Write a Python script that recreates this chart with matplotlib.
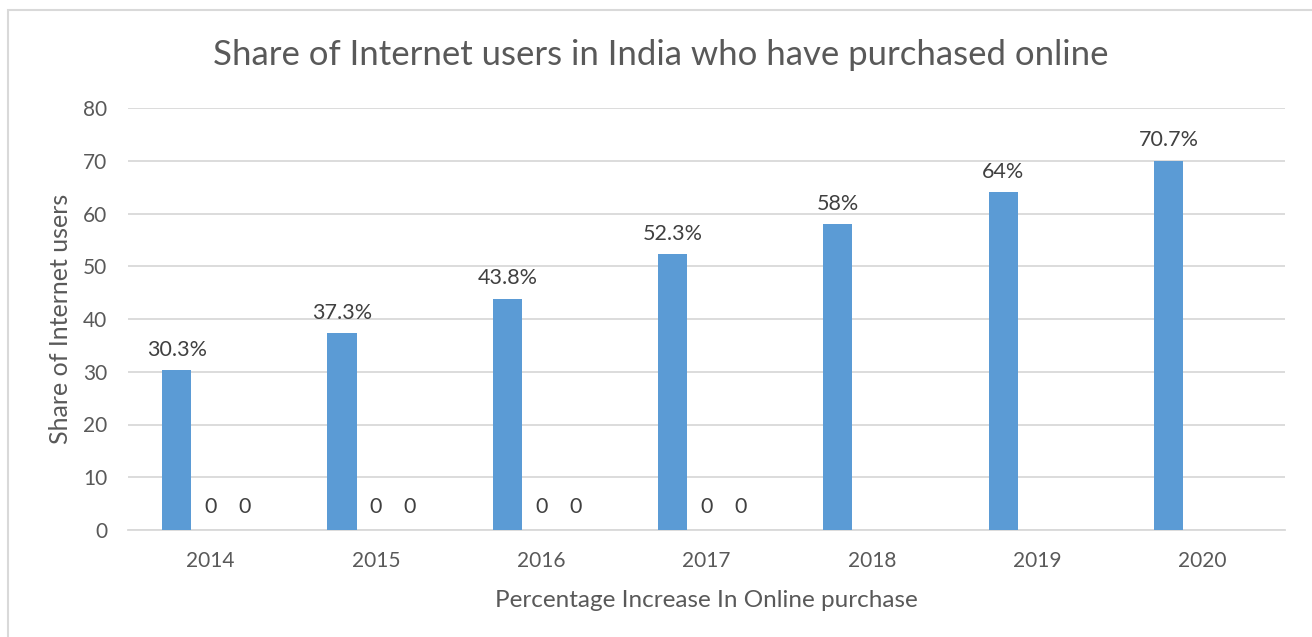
import numpy as np
import matplotlib.pyplot as plt
from matplotlib.patches import Rectangle

# data
years = ["2014", "2015", "2016", "2017", "2018", "2019", "2020"]
share = [30.3, 37.3, 43.8, 52.3, 58, 64, 70]
share_labels = ["30.3%", "37.3%", "43.8%", "52.3%", "58%", "64%", "70.7%"]
series2 = [0, 0, 0, 0, None, None, None]
series3 = [0, 0, 0, 0, None, None, None]

bar_color = "#5B9BD5"
text_color = "#595959"
label_color = "#404040"
grid_color = "#D9D9D9"

plt.rcParams['font.family'] = ['Lato', 'DejaVu Sans']

fig = plt.figure(figsize=(13.12, 6.37), dpi=100)
ax = fig.add_axes([128 / 1312, 1 - 530 / 637, (1285 - 128) / 1312, (530 - 108) / 637])

# chart area border
fig.patches.append(Rectangle((8 / 1312, -0.01), 1.0, 1 - 10 / 637 + 0.01,
                             transform=fig.transFigure, fill=False,
                             edgecolor="#D9D9D9", linewidth=1.5))

x = np.arange(len(years))
slot = 0.205
bw = 0.176

ax.bar(x - slot, share, width=bw, color=bar_color, zorder=3)
for xi, v, lab in zip(x, share, share_labels):
    ax.text(xi - slot, v + 2.0, lab, ha="center", va="bottom",
            fontsize=15.5, color=label_color)

# two empty series that only show "0" labels
for off, ser in [(0, series2), (slot, series3)]:
    for xi, v in zip(x, ser):
        if v is None:
            continue
        ax.bar(xi + off, v, width=bw, color="#ED7D31", zorder=3)
        ax.text(xi + off, v + 2.5, str(v), ha="center", va="bottom",
                fontsize=15.5, color=label_color)

ax.set_xlim(-0.5, len(years) - 0.5)
ax.set_ylim(0, 80)
ax.set_yticks(range(0, 81, 10))
ax.set_xticks(x)
ax.set_xticklabels(years)
ax.tick_params(axis="both", length=0, labelsize=15, colors=text_color)
ax.tick_params(axis="x", pad=15)
ax.tick_params(axis="y", pad=15)
ax.grid(axis="y", color=grid_color, linewidth=1.3, zorder=0)
for s in ["top", "right", "left"]:
    ax.spines[s].set_visible(False)
ax.spines["bottom"].set_color(grid_color)
ax.spines["bottom"].set_linewidth(1.3)

fig.text(661 / 1312, 1 - 55 / 637,
         "Share of Internet users in India who have purchased online",
         fontsize=25, color=text_color, ha="center", va="center")
ax.set_xlabel("Percentage Increase In Online purchase", fontsize=17.5,
              color=text_color, labelpad=14)
ax.set_ylabel("Share of Internet users", fontsize=18, color=text_color,
              labelpad=8)

plt.savefig("out.png", dpi=100)
